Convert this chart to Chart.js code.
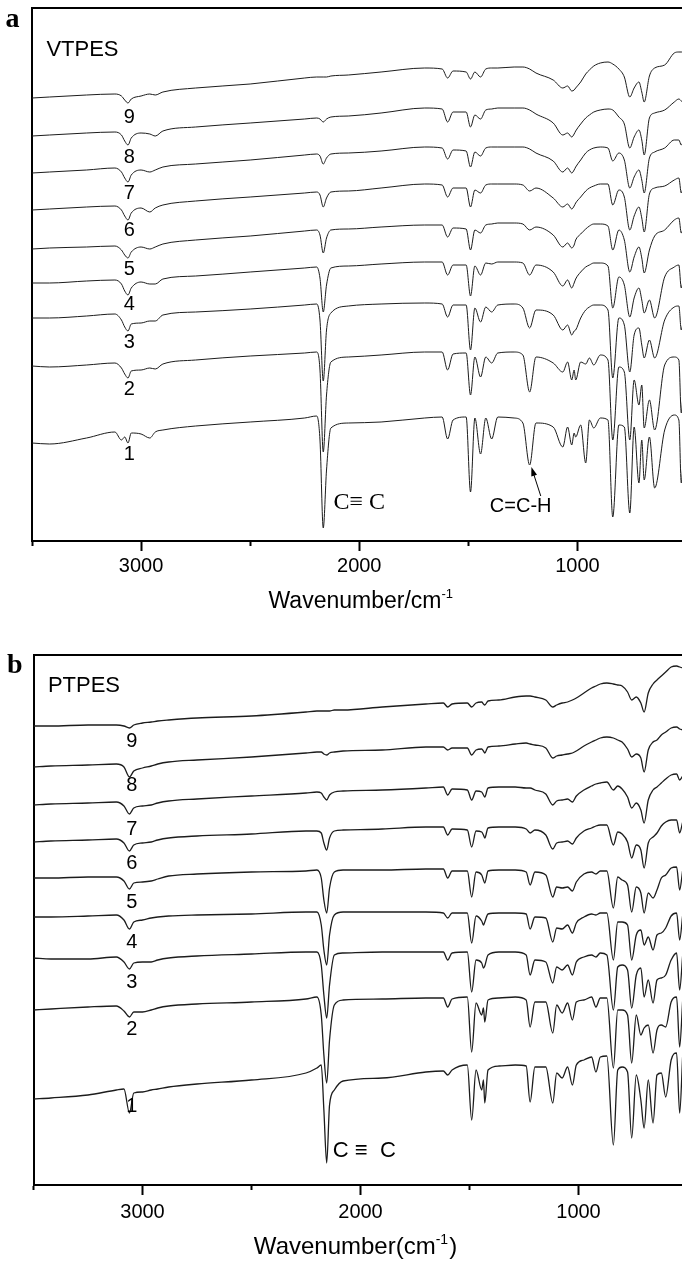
<!DOCTYPE html>
<html><head><meta charset="utf-8">
<script src="https://cdn.jsdelivr.net/npm/chart.js@4.4.1/dist/chart.umd.min.js"></script>
<style>
html,body{margin:0;padding:0;background:#fff;overflow:hidden;width:682px;height:1264px;}
#wrap{position:relative;width:690px;height:1264px;overflow:hidden;}
canvas{position:absolute;left:0;}
</style></head><body>
<div id="wrap">
<canvas id="chartA" width="690" height="632" style="top:0;width:690px;height:632px"></canvas>
<canvas id="chartB" width="690" height="632" style="top:632px;width:690px;height:632px"></canvas>
</div>
<script>
// ---- tick values ----
const MAJOR_TICKS = [3000, 2000, 1000];
const MINOR_TICKS = [3500, 2500, 1500, 500];
const TRACE_NAMES = ['1','2','3','4','5','6','7','8','9'];

// ---- panel a (VTPES): wavenumber grid (cm-1) and offset transmittance traces ----
const WN_A = [3500,3420,3250,3120,3090,3075,3060,3045,3000,2960,
2935,2900,2750,2500,2250,2195,2180,2165,2150,2130,
2050,1900,1700,1620,1595,1570,1510,1490,1470,1444,
1420,1393,1365,1290,1250,1219,1190,1111,1067,1045,
1026,1015,1008,985,962,945,925,895,860,838,
810,785,760,740,718,705,694,670,646,600,
556,535,524,510];

const VT1 = [443,444,438,432,440,437,443,433,434,438,
432,430,426,422,418,416,440,528,470,428,
423,422,418,417,439,420,417,492,418,454,
418,439,417,418,423,465,423,427,447,427,
445,433,437,425,463,420,428,418,420,517,
425,427,513,427,483,440,480,437,488,430,
415,420,483,430];
const VT2 = [366,367,365,363,368,374,378,371,370,368,
369,364,360,356,353,352,370,452,395,362,
357,355,352,352,370,354,353,395,357,377,
357,363,353,352,355,392,357,363,372,362,
380,370,380,362,364,358,365,355,360,440,
367,372,440,380,405,385,428,400,430,365,
357,360,413,365];
const VT3 = [318,318,316,314,320,327,331,324,323,321,
321,315,312,309,305,304,320,381,330,313,
306,304,303,304,317,305,305,350,308,322,
307,312,305,304,308,328,310,315,330,325,
335,331,330,318,310,307,305,305,310,378,
318,325,372,335,328,345,358,340,358,320,
307,306,330,312];
const VT4 = [283,283,281,280,284,291,295,288,282,284,
284,279,276,272,268,267,278,312,285,268,
266,264,262,262,275,265,265,296,266,275,
263,264,262,262,263,275,265,272,286,280,
288,283,279,272,267,265,263,263,266,308,
277,285,317,298,288,300,313,300,318,277,
267,265,288,270];
const VT5 = [249,248,247,246,250,255,258,252,247,249,
247,244,240,236,231,230,235,253,238,230,
229,227,225,225,237,228,229,250,230,233,
225,224,223,223,224,230,227,235,247,243,
248,245,240,234,229,226,224,224,226,250,
230,240,272,257,247,258,273,250,236,230,
220,218,233,222];
const VT6 = [210,209,207,206,210,216,220,213,208,212,
208,205,201,197,193,192,195,207,198,192,
191,188,184,185,197,188,188,207,190,193,
185,184,184,184,185,191,188,198,207,204,
209,206,203,197,191,188,186,184,184,205,
190,197,230,216,207,218,232,194,188,186,
180,178,193,180];
const VT7 = [173,172,170,168,172,178,182,175,170,172,
170,167,164,160,155,154,156,164,158,154,
153,151,147,148,159,150,151,167,152,156,
148,147,147,147,147,149,153,161,172,168,
173,170,167,160,153,150,148,147,148,161,
153,160,188,177,170,180,193,158,152,148,
140,140,145,138];
const VT8 = [136,135,133,132,135,141,145,138,133,134,
136,131,127,123,119,118,119,122,119,117,
116,113,108,109,122,112,112,127,115,119,
110,109,108,108,108,110,114,123,135,133,
137,134,131,124,118,115,112,110,109,110,
117,124,148,137,130,140,155,118,113,110,
102,99,101,103];
const VT9 = [98,97,95,94,96,100,103,99,96,94,
95,92,88,84,78,77,77,77,77,76,
75,72,68,69,78,71,72,79,72,77,
69,68,68,67,67,69,73,80,88,86,
91,90,88,82,74,70,66,63,62,64,
69,77,97,88,82,92,102,76,68,65,
53,52,52,52];

// ---- panel b (PTPES) ----
const WN_B = [3500,3420,3250,3120,3085,3060,3040,3000,2960,2930,
2880,2750,2500,2250,2200,2180,2168,2155,2142,2120,
2080,1900,1700,1620,1600,1580,1510,1490,1470,1444,
1436,1430,1415,1365,1290,1240,1222,1200,1150,1118,
1100,1075,1050,1028,1010,975,940,920,900,870,
840,820,800,775,756,735,714,699,680,658,
640,620,600,575,550,536,522];

const PT1 = [1099,1098,1095,1090,1089,1113,1093,1092,1090,1089,
1087,1084,1080,1073,1068,1065,1110,1163,1105,1090,
1081,1078,1072,1071,1075,1070,1065,1120,1070,1090,
1080,1103,1070,1066,1065,1066,1102,1067,1067,1103,
1073,1078,1067,1085,1065,1060,1057,1072,1057,1056,
1145,1070,1067,1072,1138,1075,1100,1128,1080,1123,
1075,1073,1097,1060,1053,1113,1055];
const PT2 = [1010,1009,1007,1006,1011,1017,1012,1012,1010,1008,
1006,1004,1002,999,997,1015,1055,1083,1040,1005,
1000,999,998,998,1007,999,997,1052,1003,1015,
1008,1022,1000,998,997,1000,1027,1002,1002,1033,
1005,1013,1003,1020,1002,1000,997,1007,998,998,
1068,1010,1010,1015,1063,1015,1035,1028,1025,1053,
1030,1025,1027,1002,997,1047,1000];
const PT3 = [958,959,959,957,962,969,963,962,962,960,
958,956,954,952,952,965,995,1018,985,955,
953,952,952,952,960,953,952,992,960,963,
968,966,955,952,952,955,975,960,962,983,
967,970,965,975,962,957,955,957,953,955,
1010,967,965,970,1008,975,968,997,980,1003,
980,978,975,960,953,990,955];
const PT4 = [917,917,916,915,920,929,922,920,918,917,
916,915,914,912,912,925,950,965,935,915,
912,912,912,913,918,913,913,943,916,921,
925,922,914,913,913,914,929,917,918,942,
928,929,925,933,923,917,914,915,913,913,
960,922,922,925,960,935,930,945,937,950,
935,933,928,916,913,940,915];
const PT5 = [878,878,877,877,881,889,883,882,881,879,
876,874,872,871,870,878,900,913,888,872,
870,870,869,869,878,871,871,897,872,875,
880,883,871,870,870,872,885,872,875,897,
887,888,887,891,882,874,872,874,871,871,
908,877,880,885,912,887,893,913,893,898,
890,878,875,868,867,890,870];
const PT6 = [842,841,840,839,843,851,845,843,842,840,
838,836,834,831,831,833,843,850,838,831,
830,829,827,827,835,829,830,847,831,832,
835,838,828,827,827,829,833,830,835,849,
843,842,841,844,838,831,828,826,825,825,
845,832,834,842,858,845,850,868,843,837,
833,826,822,820,820,833,822];
const PT7 = [805,804,803,802,806,814,808,806,805,803,
801,799,796,793,792,793,797,800,795,792,
791,790,788,787,795,789,790,800,791,792,
795,797,788,787,787,788,788,790,794,805,
801,800,799,802,796,790,786,784,783,782,
790,786,789,797,808,803,810,823,800,790,
787,783,779,775,774,780,776];
const PT8 = [767,766,765,764,767,777,771,768,766,764,
762,760,757,753,752,752,754,755,753,752,
751,750,747,747,750,748,748,755,750,749,
751,753,747,746,744,743,744,745,748,758,
756,755,754,753,751,746,742,740,738,737,
738,740,742,749,757,754,758,772,750,742,
740,735,732,728,727,729,730];
const PT9 = [726,726,725,725,726,728,725,723,722,721,
720,718,716,712,711,711,711,711,711,710,
710,707,704,703,707,704,703,707,703,702,
704,705,701,700,697,696,696,697,700,707,
705,703,702,700,698,693,688,686,684,683,
684,685,686,692,700,697,703,712,693,684,
680,676,672,667,666,667,668];

// ---- annotation / layout configuration ----
const SANS = '"Liberation Sans", Arial, sans-serif';
const SERIF = '"Liberation Serif", "Times New Roman", serif';

const PANELS = [
  {
    canvas: 'chartA', wn: WN_A, series: [VT1,VT2,VT3,VT4,VT5,VT6,VT7,VT8,VT9],
    yMin: 8, yMax: 541,
    pad: {left: 32, top: 8, right: 3.5}, axisH: 91,
    tickSize: 20, tickPad: 3.5, lineWidth: 1,
    title: {main: 'Wavenumber/cm', sup: '-1', suffix: '', size: 23, supSize: 13, dy: 67, dx: 2},
    texts: [
      {text: 'a', wn: 3622, v: 27, font: 'bold 28px ' + SERIF, align: 'left', base: 'alphabetic'},
      {text: 'VTPES', wn: 3434, v: 49.5, font: '22px ' + SANS, align: 'left'},
      {text: 'C≡ C', wn: 2118, v: 503, font: '24px ' + SERIF, align: 'left'},
      {text: 'C=C-H', wn: 1260, v: 506, font: '20px ' + SANS, align: 'center'}
    ],
    nameWn: 3054, nameV: [454, 389, 342, 304, 269, 230, 193, 157, 117], nameFont: '20px ' + SANS,
    arrow: {fromWn: 1168, fromV: 496, toWn: 1211, toV: 467}
  },
  {
    canvas: 'chartB', wn: WN_B, series: [PT1,PT2,PT3,PT4,PT5,PT6,PT7,PT8,PT9],
    yMin: 655, yMax: 1185,
    pad: {left: 33.5, top: 23, right: 2.5}, axisH: 79,
    tickSize: 20, tickPad: 5, lineWidth: 1.3,
    title: {main: 'Wavenumber(cm', sup: '-1', suffix: ')', size: 24, supSize: 14, dy: 69, dx: -5},
    texts: [
      {text: 'b', wn: 3622, v: 673, font: 'bold 28px ' + SERIF, align: 'left', base: 'alphabetic'},
      {text: 'PTPES', wn: 3434, v: 686, font: '22px ' + SANS, align: 'left'},
      {text: 'C ≡  C', wn: 2127, v: 1151, font: '22px ' + SANS, align: 'left'}
    ],
    nameWn: 3049, nameV: [1106, 1029, 982, 942, 902, 863, 829, 785, 741], nameFont: '20px ' + SANS,
    arrow: null
  }
];

const annotPlugin = {
  id: 'annot',
  afterDraw(chart, args, o) {
    const ctx = chart.ctx, xs = chart.scales.x, ys = chart.scales.y, ca = chart.chartArea;
    const P = o.panel;
    ctx.save();
    ctx.fillStyle = '#000';
    for (const t of P.texts) {
      ctx.font = t.font;
      ctx.textAlign = t.align || 'center';
      ctx.textBaseline = t.base || 'middle';
      ctx.fillText(t.text, xs.getPixelForValue(t.wn), ys.getPixelForValue(t.v));
    }
    ctx.font = P.nameFont; ctx.textAlign = 'center'; ctx.textBaseline = 'middle';
    TRACE_NAMES.forEach((n, i) => {
      ctx.fillText(n, xs.getPixelForValue(P.nameWn), ys.getPixelForValue(P.nameV[i]));
    });
    if (P.arrow) {
      const a = P.arrow;
      const x1 = xs.getPixelForValue(a.fromWn), y1 = ys.getPixelForValue(a.fromV);
      const x2 = xs.getPixelForValue(a.toWn), y2 = ys.getPixelForValue(a.toV);
      const ang = Math.atan2(y2 - y1, x2 - x1);
      ctx.strokeStyle = '#000'; ctx.lineWidth = 1;
      ctx.beginPath(); ctx.moveTo(x1, y1); ctx.lineTo(x2 - 6 * Math.cos(ang), y2 - 6 * Math.sin(ang)); ctx.stroke();
      ctx.beginPath();
      ctx.moveTo(x2, y2);
      ctx.lineTo(x2 - 9 * Math.cos(ang) + 3 * Math.sin(ang), y2 - 9 * Math.sin(ang) - 3 * Math.cos(ang));
      ctx.lineTo(x2 - 9 * Math.cos(ang) - 3 * Math.sin(ang), y2 - 9 * Math.sin(ang) + 3 * Math.cos(ang));
      ctx.closePath(); ctx.fill();
    }
    // axis title with superscript
    const T = P.title;
    const mainF = T.size + 'px ' + SANS, supF = T.supSize + 'px ' + SANS;
    ctx.textAlign = 'left'; ctx.textBaseline = 'alphabetic';
    ctx.font = mainF; const w1 = ctx.measureText(T.main).width, w3 = ctx.measureText(T.suffix).width;
    ctx.font = supF; const w2 = ctx.measureText(T.sup).width;
    let x = (ca.left + ca.right) / 2 + T.dx - (w1 + w2 + w3 + 1) / 2;
    const y = ca.bottom + T.dy;
    ctx.font = mainF; ctx.fillText(T.main, x, y); x += w1;
    ctx.font = supF; ctx.fillText(T.sup, x, y - T.size * 0.42); x += w2 + 1;
    ctx.font = mainF; ctx.fillText(T.suffix, x, y);
    ctx.restore();
  }
};

Chart.defaults.font.family = SANS;

function build(P) {
  const datasets = P.series.map((s, k) => ({
    label: TRACE_NAMES[k],
    data: P.wn.map((w, i) => ({x: w, y: s[i]})),
    borderColor: '#1c1c1c', borderWidth: P.lineWidth,
    pointRadius: 0, fill: false, cubicInterpolationMode: 'monotone',
    borderJoinStyle: 'round'
  }));
  const hidden = {display: false};
  return new Chart(document.getElementById(P.canvas), {
    type: 'line',
    data: {datasets},
    plugins: [annotPlugin],
    options: {
      responsive: false, animation: false, devicePixelRatio: 1,
      layout: {padding: {left: P.pad.left, top: P.pad.top, right: P.pad.right, bottom: 0}},
      plugins: {legend: hidden, tooltip: {enabled: false}, annot: {panel: P}},
      scales: {
        x: {
          type: 'linear', position: 'bottom', reverse: true, min: 500, max: 3500, weight: 1,
          afterBuildTicks: s => { s.ticks = MAJOR_TICKS.map(v => ({value: v})); },
          afterFit: s => { s.height = P.axisH; },
          grid: {drawOnChartArea: false, drawTicks: true, tickLength: 10, tickWidth: 2, tickColor: '#000'},
          border: {display: true, color: '#000', width: 2},
          ticks: {font: {size: P.tickSize, family: SANS}, color: '#000', padding: P.tickPad, maxRotation: 0, autoSkip: false,
                  callback: v => String(v)}
        },
        xm: {
          type: 'linear', position: 'bottom', reverse: true, min: 500, max: 3500, weight: 0,
          afterBuildTicks: s => { s.ticks = MINOR_TICKS.map(v => ({value: v})); },
          afterFit: s => { s.height = 0; },
          grid: {drawOnChartArea: false, drawTicks: true, tickLength: 5, tickWidth: 2, tickColor: '#000'},
          border: {display: true, color: '#000', width: 2},
          ticks: {display: false}
        },
        xt: {
          type: 'linear', position: 'top', reverse: true, min: 500, max: 3500,
          afterFit: s => { s.height = 0; },
          grid: {drawOnChartArea: false, drawTicks: false},
          border: {display: true, color: '#000', width: 2},
          ticks: {display: false}
        },
        y: {
          type: 'linear', position: 'left', reverse: true, min: P.yMin, max: P.yMax,
          afterFit: s => { s.width = 0; },
          grid: {drawOnChartArea: false, drawTicks: false},
          border: {display: true, color: '#000', width: 2},
          ticks: {display: false}
        }
      }
    }
  });
}
PANELS.forEach(build);
</script></body></html>
